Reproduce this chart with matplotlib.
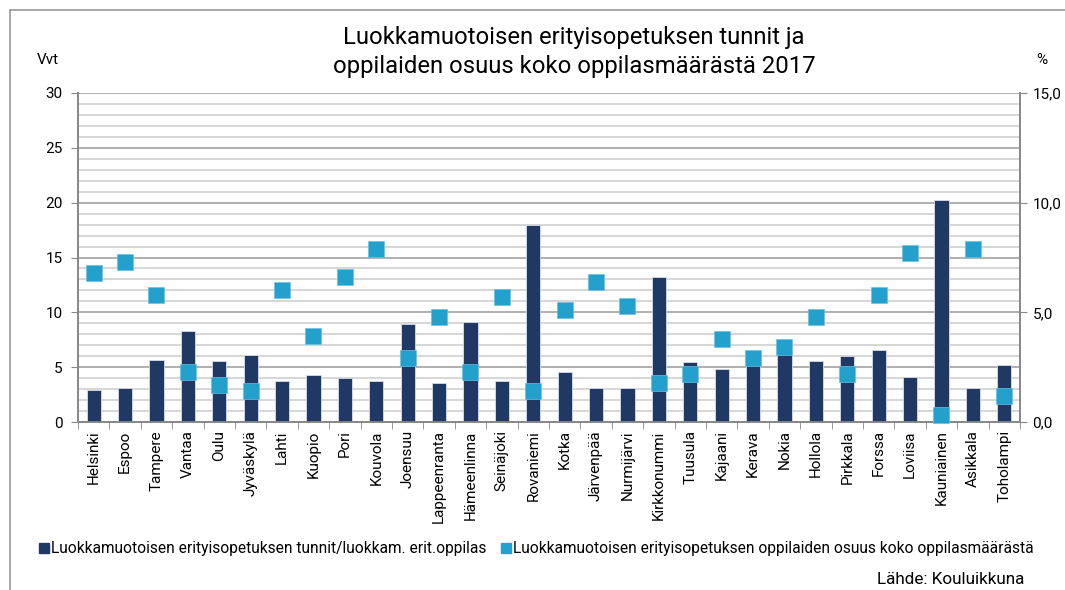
import matplotlib
matplotlib.use("Agg")
import matplotlib.pyplot as plt
from matplotlib.lines import Line2D
import numpy as np

plt.rcParams['font.family'] = ['Roboto', 'DejaVu Sans']

# kunnat
kunnat = ["Helsinki", "Espoo", "Tampere", "Vantaa", "Oulu", "Jyväskylä", "Lahti",
          "Kuopio", "Pori", "Kouvola", "Joensuu", "Lappeenranta", "Hämeenlinna",
          "Seinäjoki", "Rovaniemi", "Kotka", "Järvenpää", "Nurmijärvi", "Kirkkonummi",
          "Tuusula", "Kajaani", "Kerava", "Nokia", "Hollola", "Pirkkala", "Forssa",
          "Loviisa", "Kauniainen", "Asikkala", "Toholampi"]

# tunnit / luokkam. erit. oppilas (vvt)
tunnit = [2.9, 3.1, 5.7, 8.3, 5.6, 6.1, 3.7, 4.3, 4.0, 3.7, 8.9, 3.6, 9.1, 3.7,
          18.0, 4.6, 3.1, 3.1, 13.2, 5.5, 4.8, 6.3, 6.5, 5.6, 6.0, 6.6, 4.1, 20.2,
          3.1, 5.2]

# osuus koko oppilasmäärästä (%)
osuus = [6.8, 7.3, 5.8, 2.3, 1.7, 1.4, 6.0, 3.9, 6.6, 7.9, 2.9, 4.8, 2.3, 5.7,
         1.4, 5.1, 6.4, 5.3, 1.8, 2.2, 3.8, 2.9, 3.4, 4.8, 2.2, 5.8, 7.7, 0.3,
         7.9, 1.2]

selitteet = ["Luokkamuotoisen erityisopetuksen tunnit/luokkam. erit.oppilas",
             "Luokkamuotoisen erityisopetuksen oppilaiden osuus koko oppilasmäärästä"]

tummansininen = "#1f3864"
vaaleansininen = "#23a0cb"

fig = plt.figure(figsize=(10.65, 5.9), dpi=100)
ax = fig.add_axes([0.0732, 0.2847, 0.8845, 0.5577])
ax2 = ax.twinx()
ax.set_zorder(1)
ax2.set_zorder(2)
ax2.patch.set_visible(False)

x = np.arange(len(kunnat))
ax.bar(x, tunnit, width=0.45, color=tummansininen, edgecolor="#d8dce6",
       linewidth=0.6, zorder=3)
ax2.plot(x, osuus, linestyle="none", marker="s", markersize=11,
         color=vaaleansininen, markeredgecolor="#6cc0de", markeredgewidth=0.5,
         zorder=4, clip_on=False)

ax.set_xlim(-0.5, len(kunnat) - 0.5)
ax.set_ylim(0, 30)
ax2.set_ylim(0, 15)

# ruudukko
for v in range(1, 31):
    if v % 5 == 0:
        ax.axhline(v, color="#9a9a9a", linewidth=1.1, zorder=1)
    else:
        ax.axhline(v, color="#cccccc", linewidth=1.1, zorder=1)

ax.set_yticks(range(0, 31, 5))
ax2.set_yticks([0, 5, 10, 15])
ax2.set_yticklabels(["0,0", "5,0", "10,0", "15,0"])

ax.set_xticks(x)
ax.set_xticklabels(kunnat, rotation=90, fontsize=11)
ax.tick_params(axis="x", length=0, pad=6)
ax.set_xticks(np.arange(-0.5, len(kunnat)), minor=True)
ax.tick_params(axis="x", which="minor", length=5, color="#888888", direction="out")
ax.tick_params(axis="y", labelsize=11, length=5, color="#888888", pad=6)
ax2.tick_params(axis="y", labelsize=11, length=5, color="#888888", pad=4)

for a in (ax, ax2):
    a.spines["top"].set_visible(False)
    for s in ("left", "right", "bottom"):
        a.spines[s].set_color("#888888")
        a.spines[s].set_linewidth(1.3)

fig.text(0.539, 0.937, "Luokkamuotoisen erityisopetuksen tunnit ja",
         ha="center", va="center", fontsize=17.2)
fig.text(0.539, 0.888, "oppilaiden osuus koko oppilasmäärästä 2017",
         ha="center", va="center", fontsize=17.2)
fig.text(0.045, 0.898, "Vvt", ha="center", va="center", fontsize=11)
fig.text(0.978, 0.898, "%", ha="center", va="center", fontsize=11)

# selite
kasittelijat = [
    Line2D([], [], linestyle="none", marker="s", markersize=7, color=tummansininen),
    Line2D([], [], linestyle="none", marker="s", markersize=7, color=vaaleansininen),
]
fig.legend(kasittelijat, selitteet,
           loc="center left", bbox_to_anchor=(0.022, 0.07), ncol=2, frameon=False,
           fontsize=11.2, handletextpad=0.05, columnspacing=0.9, handlelength=0.8)

fig.text(0.962, 0.018, "Lähde: Kouluikkuna", ha="right", va="center", fontsize=12.3)

# kehys
fig.add_artist(Line2D([0.009, 0.009], [0.0, 0.983], color="#999999", linewidth=1.2))
fig.add_artist(Line2D([0.009, 1.0], [0.983, 0.983], color="#999999", linewidth=1.2))

fig.savefig("out.png", dpi=100)
